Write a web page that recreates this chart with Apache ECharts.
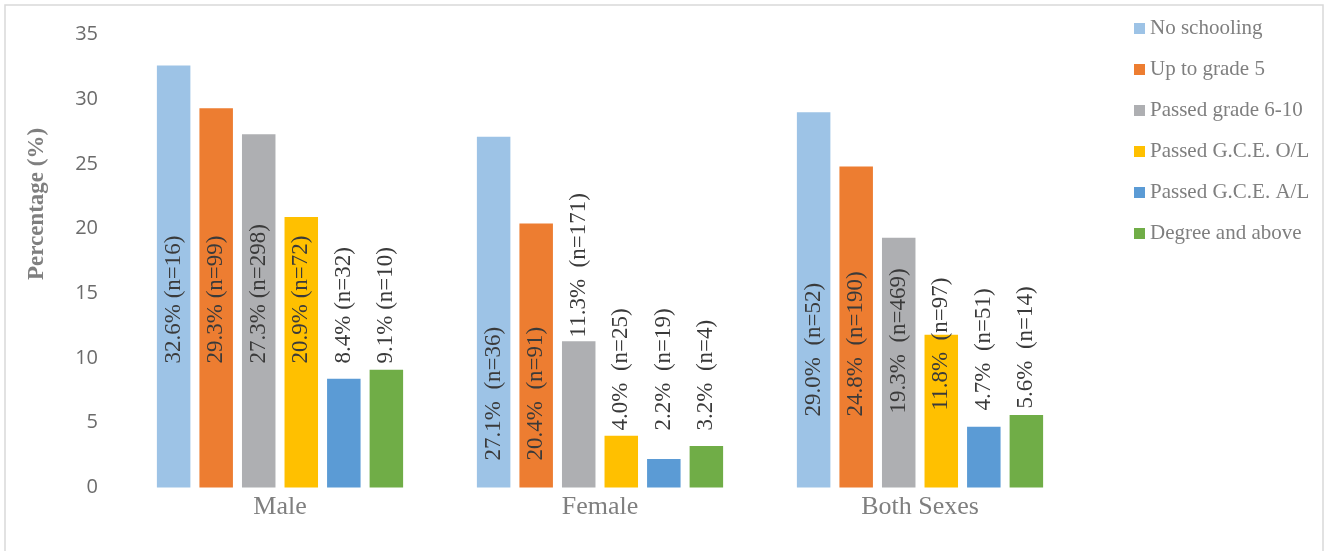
<!DOCTYPE html>
<html lang="en">
<head>
	<meta charset="UTF-8">
	<title>Education level by sex</title>
	<style type="text/css">
		html,body{
			padding: 0;
			margin: 0;
			background: #fff;
		}
		#main{
			width: 1330px;
			height: 551px;
		}
	</style>
</head>
<body>
	<div id="main"></div>
<script type="text/javascript" src="https://cdn.jsdelivr.net/npm/echarts@6/dist/echarts.min.js"></script>
<script type="text/javascript">
	var categories = ['Male', 'Female', 'Both Sexes'];
	var levels = ['No schooling', 'Up to grade 5', 'Passed grade 6-10', 'Passed G.C.E. O/L', 'Passed G.C.E. A/L', 'Degree and above'];

	// percentages, one array per education level (Male, Female, Both Sexes)
	var noSchooling = [32.6, 27.1, 29.0];
	var upToGrade5 = [29.3, 20.4, 24.8];
	var grade6to10 = [27.3, 11.3, 19.3];
	var passedOL = [20.9, 4.0, 11.8];
	var passedAL = [8.4, 2.2, 4.7];
	var degree = [9.1, 3.2, 5.6];

	// sample counts
	var nNoSchooling = [16, 36, 52];
	var nUpToGrade5 = [99, 91, 190];
	var nGrade6to10 = [298, 171, 469];
	var nPassedOL = [72, 25, 97];
	var nPassedAL = [32, 19, 51];
	var nDegree = [10, 4, 14];

	var values = [noSchooling, upToGrade5, grade6to10, passedOL, passedAL, degree];
	var counts = [nNoSchooling, nUpToGrade5, nGrade6to10, nPassedOL, nPassedAL, nDegree];

	var colors = ['#9DC3E6', '#ED7D31', '#AEAFB2', '#FFC000', '#5B9BD5', '#70AD47'];
	// how far above the baseline each label starts (px), labels were hand placed
	var labelLift = [
		[124, 27, 71],
		[124, 27, 71],
		[124, 150, 74],
		[124, 57, 77],
		[124, 57, 77],
		[124, 57, 79]
	];
	var labelSpace = [' ', '  ', '  '];

	var myChart = echarts.init(document.getElementById('main'));

	var series = [];
	for (var s = 0; s < levels.length; s++) {
		var items = [];
		for (var c = 0; c < categories.length; c++) {
			items.push({
				value: values[s][c],
				label: { distance: labelLift[s][c] }
			});
		}
		series.push({
			name: levels[s],
			type: 'bar',
			barWidth: 33.5,
			barGap: '27%',
			itemStyle: { color: colors[s] },
			label: {
				show: true,
				position: 'insideBottom',
				rotate: 90,
				align: 'left',
				verticalAlign: 'middle',
				fontFamily: '"Liberation Serif", "Times New Roman", serif',
				fontSize: 23,
				color: '#3a3a3a',
				formatter: (function (si) {
					return function (p) {
						return p.value.toFixed(1) + '%' + labelSpace[p.dataIndex] + '(n=' + counts[si][p.dataIndex] + ')';
					};
				})(s)
			},
			data: items
		});
	}

	myChart.setOption({
		backgroundColor: '#fff',
		animation: false,
		grid: {
			left: 120,
			right: 250,
			top: 34.5,
			bottom: 63.5
		},
		legend: {
			orient: 'vertical',
			left: 1134,
			top: 18,
			padding: 0,
			itemWidth: 11,
			itemHeight: 11,
			itemGap: 20,
			icon: 'rect',
			textStyle: {
				fontFamily: '"Liberation Serif", "Times New Roman", serif',
				fontSize: 21,
				lineHeight: 21,
				color: '#7f7f7f'
			},
			data: levels
		},
		xAxis: {
			type: 'category',
			data: categories,
			axisLine: { show: false },
			axisTick: { show: false },
			axisLabel: {
				margin: 7,
				fontFamily: '"Liberation Serif", "Times New Roman", serif',
				fontSize: 26,
				color: '#7f7f7f'
			}
		},
		yAxis: {
			type: 'value',
			min: 0,
			max: 35,
			interval: 5,
			splitLine: { show: false },
			axisLine: { show: false },
			axisTick: { show: false },
			axisLabel: {
				margin: 22,
				fontFamily: '"Open Sans", "Noto Sans", sans-serif',
				fontSize: 20,
				color: '#6b6b6b'
			}
		},
		graphic: [
			{
				type: 'rect',
				silent: true,
				shape: { x: 5, y: 5, width: 1318, height: 560 },
				style: { fill: 'none', stroke: '#d9d9d9', lineWidth: 1.5 }
			},
			{
				type: 'text',
				x: 37.5,
				y: 204,
				rotation: Math.PI / 2,
				style: {
					text: 'Percentage (%)',
					fontFamily: '"Liberation Serif", "Times New Roman", serif',
					fontWeight: 'bold',
					fontSize: 23,
					fill: '#7f7f7f',
					textAlign: 'center',
					textVerticalAlign: 'middle'
				}
			}
		],
		series: series
	});
</script>
</body>
</html>
